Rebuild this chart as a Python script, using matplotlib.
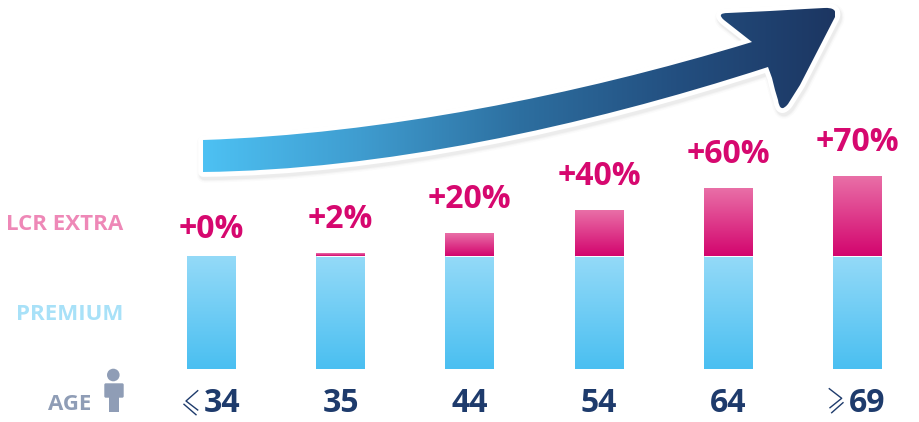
import matplotlib
matplotlib.use("Agg")
import matplotlib.pyplot as plt
import numpy as np
from matplotlib.colors import LinearSegmentedColormap
from matplotlib.patches import Circle, FancyBboxPatch, PathPatch, Rectangle
from matplotlib.path import Path

plt.rcParams["font.family"] = ["Open Sans", "DejaVu Sans"]

W, H = 920, 422

age_labels = ["34", "35", "44", "54", "64", "69"]
premium = [100, 100, 100, 100, 100, 100]
extra = [0, 2, 20, 40, 60, 70]
extra_labels = ["+0%", "+2%", "+20%", "+40%", "+60%", "+70%"]

NAVY = "#1E3B6C"
MAGENTA = "#D6086F"

blue_cmap = LinearSegmentedColormap.from_list("blue", ["#94DAF8", "#4ABFF1"])
pink_cmap = LinearSegmentedColormap.from_list("pink", ["#E96FA7", "#D3056E"])
arrow_cmap = LinearSegmentedColormap.from_list(
    "arrow", ["#4DC1F3", "#3F9CCF", "#2D6FA0", "#234F80", "#1C3662"]
)

fig = plt.figure(figsize=(W / 100, H / 100), dpi=100)

# pixel-space layer for the arrow, the icon and the row captions
deco = fig.add_axes([0, 0, 1, 1])
deco.set_xlim(0, W)
deco.set_ylim(H, 0)
deco.axis("off")

# bars sit on their own axes: 100 on the scale spans 113 px, bars start at y=369
bar_ax = fig.add_axes([0, (H - 369) / H, 1, 226 / H])
bar_ax.patch.set_alpha(0)
bar_ax.axis("off")
x = np.arange(len(age_labels))
step = 129.2
x0 = 211.5
xlim = (-x0 / step, (W - x0) / step)
ylim = (0, 200)


def gradient_fill(bars, cmap):
    grad = np.linspace(0, 1, 128).reshape(-1, 1)
    for rect in bars:
        if rect.get_height() == 0:
            continue
        bar_ax.imshow(
            grad, cmap=cmap, aspect="auto", zorder=3, interpolation="bilinear",
            extent=(rect.get_x(), rect.get_x() + rect.get_width(),
                    rect.get_y(), rect.get_y() + rect.get_height()),
        )


width = 49 / step
premium_bars = bar_ax.bar(x, premium, width, color="none")
extra_bars = bar_ax.bar(x, extra, width, bottom=premium, color="none")
gradient_fill(premium_bars, blue_cmap)
gradient_fill(extra_bars, pink_cmap)
bar_ax.set_xlim(xlim)
bar_ax.set_ylim(ylim)
for i, rect in enumerate(extra_bars):
    # hairline between the two stacked segments
    if extra[i] > 0:
        bar_ax.plot([i - width / 2, i + width / 2], [premium[i], premium[i]],
                    color="white", lw=0.7, zorder=4, solid_capstyle="butt")
    gap = 30 if extra[i] == 0 else 38
    bar_ax.annotate(
        extra_labels[i], (i, premium[i] + extra[i]), xytext=(0, gap * 0.72),
        textcoords="offset points", ha="center", va="center_baseline",
        fontsize=23, fontweight="bold", color=MAGENTA,
    )

# sweeping arrow outline
arrow_verts = [
    (203, 140), (380, 134), (575, 96), (752, 42),
    (738, 31), (724, 20), (716, 13), (728, 13),
    (770, 11), (805, 9), (824, 8), (838, 7), (835, 17),
    (818, 50), (800, 85), (788, 104), (780, 114), (778, 100),
    (775, 90), (772, 78), (768, 67),
    (580, 128), (380, 170), (203, 172), (203, 140),
]
arrow_codes = [
    Path.MOVETO, Path.CURVE4, Path.CURVE4, Path.CURVE4,
    Path.LINETO, Path.LINETO, Path.CURVE3, Path.CURVE3,
    Path.LINETO, Path.LINETO, Path.LINETO, Path.CURVE3, Path.CURVE3,
    Path.LINETO, Path.LINETO, Path.LINETO, Path.CURVE3, Path.CURVE3,
    Path.LINETO, Path.LINETO, Path.LINETO,
    Path.CURVE4, Path.CURVE4, Path.CURVE4, Path.CLOSEPOLY,
]
arrow_path = Path(arrow_verts, arrow_codes)

# soft drop shadow, then the white rim
for lw, alpha in [(11, 0.025), (9, 0.035), (7.5, 0.05)]:
    shadow = PathPatch(arrow_path, fc="#555555", ec="#555555", lw=lw, alpha=alpha,
                       joinstyle="round", zorder=1)
    shadow.set_transform(deco.transData + matplotlib.transforms.Affine2D().translate(1.5, -3))
    deco.add_patch(shadow)
deco.add_patch(PathPatch(arrow_path, fc="white", ec="white", lw=7, joinstyle="round", zorder=2))
arrow_clip = PathPatch(arrow_path, fc="none", ec="none", zorder=3)
deco.add_patch(arrow_clip)
img = deco.imshow(
    np.linspace(0, 1, 256).reshape(1, -1), cmap=arrow_cmap, aspect="auto",
    extent=(203, 835, H, 0), zorder=3, interpolation="bilinear",
)
img.set_clip_path(arrow_clip)
deco.set_xlim(0, W)
deco.set_ylim(H, 0)

# row captions
deco.text(123, 225, "LCR EXTRA", ha="right", va="center", fontsize=16, fontweight="bold", color="#EE88B7")
deco.text(123, 314, "PREMIUM", ha="right", va="center", fontsize=16, fontweight="bold", color="#A8E1F8")
deco.text(91, 405, "AGE", ha="right", va="center", fontsize=16, fontweight="bold", color="#8F9DB6")

# person icon
ICON = "#8F9DB6"
deco.add_patch(Circle((113.3, 375), 6.3, fc=ICON, ec="none"))
deco.add_patch(FancyBboxPatch((105, 384), 18, 13, boxstyle="round,pad=0.7,rounding_size=1.5", fc=ICON, ec="none"))
deco.add_patch(Rectangle((109, 395), 10, 17, fc=ICON, ec="none"))

# age tick labels, first and last shifted to leave room for the sign
shift = [11, 0, 0, 0, 0, 10]
for i, label in enumerate(age_labels):
    deco.text(x0 + step * i + shift[i], 403.5, label, ha="center", va="center",
              fontsize=23, fontweight="bold", color=NAVY)

# hand-drawn less/greater-or-equal signs
for seg in [
    [(197.7, 390.7), (186, 401), (197.7, 410)],
    [(184, 404.3), (196, 414.7)],
    [(829.3, 388.7), (841.7, 398.3), (830, 407.7)],
    [(843, 402.7), (831.7, 412.7)],
]:
    xs, ys = zip(*seg)
    deco.plot(xs, ys, color=NAVY, lw=1.0)

fig.savefig("out.png", dpi=100)
